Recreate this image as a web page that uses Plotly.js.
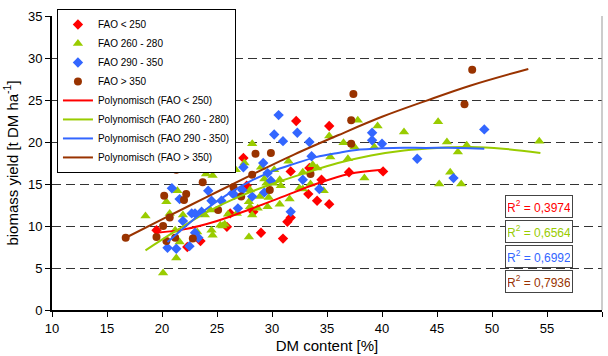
<!DOCTYPE html>
<html>
<head>
<meta charset="utf-8">
<script src="https://cdn.plot.ly/plotly-3.0.1.min.js"></script>
<style>html,body{margin:0;padding:0;background:#fff;}#chart{width:608px;height:356px;}</style>
</head>
<body>
<div id="chart"></div>
<script>
// ---- data ----
const redX = [19.5,22.3,23.5,25.9,26.2,27.4,27.7,28.3,29.0,31.0,31.4,31.7,31.7,32.2,33.3,33.4,34.1,34.5,35.2,35.2,37.0,40.1];
const redY = [9.5,7.5,8.2,9.9,11.5,18.1,14.8,11.7,9.2,8.5,10.5,11.0,16.5,22.5,13.8,16.9,13.0,15.5,12.6,21.9,16.4,16.5];

const greenX = [18.5,20.1,21.3,20.4,21.4,24.0,24.6,26.7,20.7,21.9,21.2,23.2,24.5,24.6,21.6,23.9,25.3,25.5,27.9,27.9,26.8,
  28.2,27.5,29.0,30.2,31.5,29.3,29.5,30.7,30.8,28.0,28.9,29.7,31.6,32.5,32.8,26.0,28.0,28.7,29.6,28.2,30.7,25.7,24.4,34.1,
  37.8,39.6,42.0,35.2,36.5,37.5,39.3,35.3,36.9,38.4,33.7,32.8,30.1,33.5,34.7,
  45.1,45.9,47.7,46.9,46.2,45.2,47.2,54.3];
const greenY = [11.2,4.4,6.2,12.9,14.2,16.2,16.0,16.7,11.5,11.3,9.5,9.3,9.5,8.9,8.1,11.3,10.1,10.0,8.7,12.9,11.5,
  19.8,17.5,17.0,16.7,17.7,15.6,15.1,15.5,14.8,14.3,13.5,13.4,13.2,14.5,14.4,11.4,12.3,12.1,12.3,11.3,12.6,10.2,11.9,16.9,
  22.6,21.9,21.2,20.7,19.9,19.4,19.4,18.2,18.0,15.7,17.3,16.4,15.1,15.0,14.2,
  22.4,20.0,19.6,18.8,16.4,15.0,15.0,20.1];

const blueX = [20.9,21.6,20.5,21.3,21.9,22.7,23.0,22.5,23.3,24.2,24.5,23.0,23.6,25.4,26.4,26.6,27.4,27.3,26.9,
  30.6,30.2,31.0,32.3,33.4,29.2,29.9,29.6,28.2,29.3,32.8,31.7,33.6,
  39.1,39.1,40.0,43.2,34.3,49.3,46.5];
const blueY = [14.5,13.2,7.4,7.3,10.6,11.5,11.5,7.6,8.6,14.2,13.0,9.2,11.7,13.0,13.9,13.7,17.0,14.3,12.1,
  23.2,20.9,20.1,21.1,20.0,17.5,15.4,16.3,13.5,14.0,15.5,11.7,18.3,
  21.1,20.2,19.8,18.0,14.4,21.5,15.7];

const brownX = [16.7,19.5,20.1,20.2,20.4,20.7,21.2,21.3,22.0,22.2,22.8,23.7,25.1,26.2,26.5,27.2,28.2,28.5,29.8,29.9,33.5,37.2,37.2,37.4,47.5,48.2];
const brownY = [8.6,8.7,10.0,13.6,8.2,11.0,8.6,16.7,13.1,13.8,8.5,15.2,11.9,19.4,14.6,13.5,16.1,18.6,14.3,18.7,16.2,19.8,22.6,25.7,24.5,28.6];

// trend lines, read at several positions
const redLineX = [19.5,22,25,28,31,34,37,40];
const redLineY = [9.2,9.6,10.6,12.0,13.5,15.0,16.2,16.7];
const greenLineX = [18.5,21,24,27,30,33,36,39,42,45,48,51,54.4];
const greenLineY = [7.1,9.2,11.6,13.5,15.0,16.3,17.5,18.4,19.0,19.3,19.4,19.2,18.7];
const blueLineX = [20.5,22,24,26,28,30,32,34,36,38,41,44,47,49.3];
const blueLineY = [8.1,9.8,12.0,13.8,15.3,16.5,17.4,18.2,18.7,19.1,19.3,19.3,19.3,19.2];
const brownLineX = [16.7,20,24,28,32,36,40,44,48,53.3];
const brownLineY = [8.6,10.8,13.4,16.0,18.5,20.8,23.0,24.9,26.7,28.7];

const seriesNames = ['FAO < 250','FAO 260 - 280','FAO 290 - 350','FAO > 350'];
const lineNames = ['Polynomisch (FAO < 250)','Polynomisch (FAO 260 - 280)','Polynomisch (FAO 290 - 350)','Polynomisch (FAO > 350)'];
const r2Labels = ['0,3974','0,6564','0,6992','0,7936'];
const xTicks = [10,15,20,25,30,35,40,45,50,55,60];
const yTicks = [0,5,10,15,20,25,30,35];

// ---- styles ----
const cols = ['#ff0000','#99cc00','#3366ff','#993300'];
const symbols = ['diamond','triangle-up','diamond','circle'];
const sizes = [8,9,8,8];
const ptsX = [redX,greenX,blueX,brownX];
const ptsY = [redY,greenY,blueY,brownY];
const lnX = [redLineX,greenLineX,blueLineX,brownLineX];
const lnY = [redLineY,greenLineY,blueLineY,brownLineY];

const traces = [];
for (let i=0;i<4;i++){
  traces.push({x:ptsX[i],y:ptsY[i],type:'scatter',mode:'markers',name:seriesNames[i],
    marker:{symbol:symbols[i],size:sizes[i],color:cols[i],line:{width:0}}});
}
for (let i=0;i<4;i++){
  traces.push({x:lnX[i],y:lnY[i],type:'scatter',mode:'lines',name:lineNames[i],
    line:{color:cols[i],width:2,shape:'spline',smoothing:1}});
}

const font = 'Liberation Sans, Arial, sans-serif';
const boxY = [0.352,0.267,0.182,0.097];
const annotations = r2Labels.map((t,i)=>({
  xref:'paper',yref:'paper',x:0.886,y:boxY[i],xanchor:'center',yanchor:'middle',
  text:'R<sup>2</sup> = '+t,showarrow:false,font:{family:font,size:12,color:cols[i]},
  bgcolor:'#ffffff',bordercolor:'#444',borderwidth:1,borderpad:2,width:62,height:17
}));

const layout = {
  width:608,height:356,
  margin:{l:52,r:6,t:16,b:46},
  paper_bgcolor:'#fff',plot_bgcolor:'#fff',
  font:{family:font,size:12,color:'#000'},
  showlegend:true,
  legend:{x:0.009,y:1.024,xanchor:'left',yanchor:'top',bgcolor:'#fff',bordercolor:'#000',borderwidth:1,
    font:{family:font,size:10,color:'#000'},itemwidth:30,tracegroupgap:0},
  xaxis:{range:[10,60],tickvals:xTicks,ticks:'outside',ticklen:5,tickcolor:'#000',showline:true,linecolor:'#000',linewidth:2,
    showgrid:false,zeroline:false,tickfont:{size:13},title:{text:'DM content [%]',font:{size:15},standoff:6}},
  yaxis:{range:[0,35],tickvals:yTicks,ticks:'outside',ticklen:5,tickcolor:'#000',showline:true,linecolor:'#000',linewidth:2,
    showgrid:true,gridcolor:'#333',griddash:'9px,5px',gridwidth:1,zeroline:false,tickfont:{size:13},
    title:{text:'biomass yield [t DM ha<sup>-1</sup>]',font:{size:15},standoff:6}},
  shapes:[{type:'line',xref:'paper',yref:'paper',x0:1,x1:1,y0:0,y1:1,line:{color:'#999',width:1}}],
  annotations:annotations
};

Plotly.newPlot('chart',traces,layout,{staticPlot:true,displayModeBar:false});
</script>
</body>
</html>
